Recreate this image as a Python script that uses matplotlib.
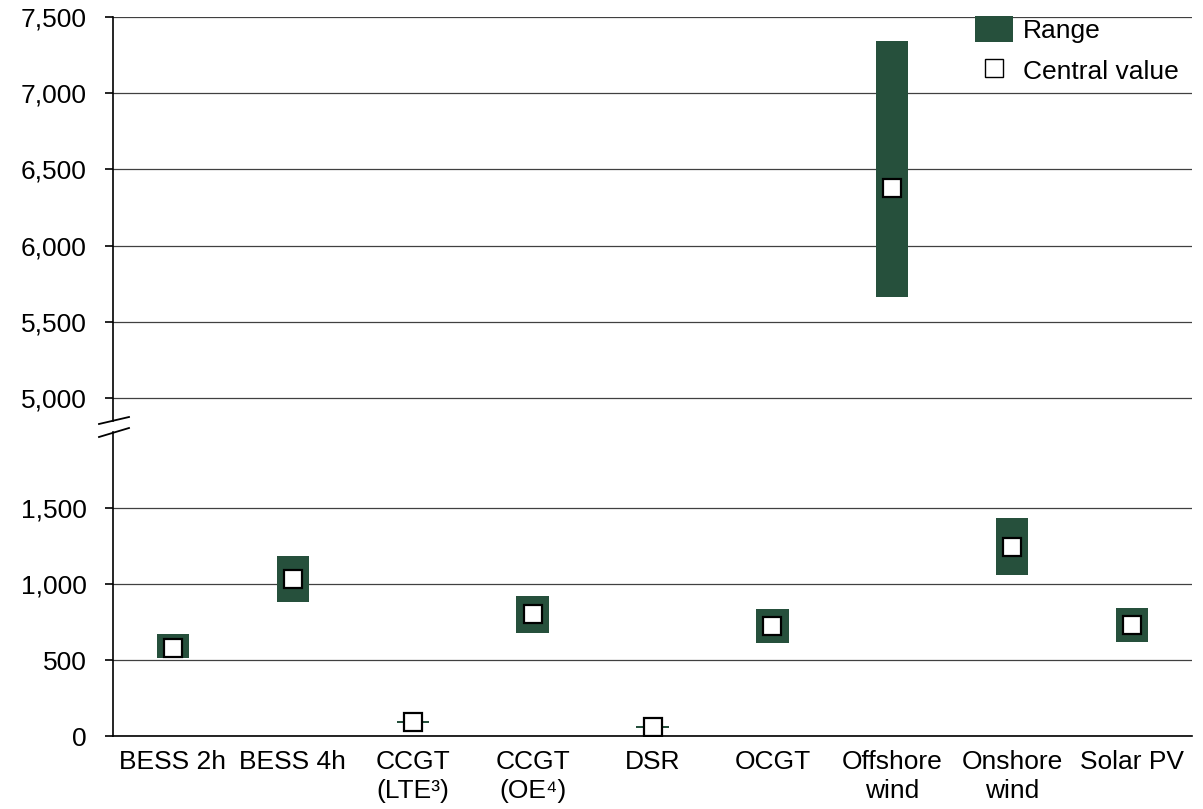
import matplotlib
matplotlib.use("Agg")
import matplotlib.pyplot as plt
from matplotlib.patches import Patch
from matplotlib.lines import Line2D
from matplotlib.ticker import FuncFormatter

plt.rcParams['font.family'] = ['Liberation Sans', 'DejaVu Sans']

categories = ["BESS 2h", "BESS 4h", "CCGT\n(LTE\u00b3)", "CCGT\n(OE\u2074)", "DSR",
              "OCGT", "Offshore\nwind", "Onshore\nwind", "Solar PV"]
range_low = [510, 882, 85, 676, 50, 614, 5660, 1059, 620]
range_high = [668, 1186, 100, 921, 63, 834, 7340, 1432, 840]
central = [582, 1030, 92, 801, 57, 725, 6380, 1245, 730]

upper_ticks = [5000, 5500, 6000, 6500, 7000, 7500]
lower_ticks = [0, 500, 1000, 1500]

GREEN = '#26503C'
W, H = 1203, 809
fig = plt.figure(figsize=(W / 100, H / 100), dpi=100)

left = 113 / W
width = (1192 - 113) / W
ax_up = fig.add_axes([left, 1 - 421 / H, width, (421 - 17) / H])
ax_lo = fig.add_axes([left, 1 - 736 / H, width, (736 - 432) / H])

x = list(range(len(categories)))
heights = [h - l for l, h in zip(range_low, range_high)]
fmt = FuncFormatter(lambda v, p: f"{int(v):,}")
FS = 19

for ax in (ax_up, ax_lo):
    ax.bar(x, heights, bottom=range_low, width=0.27, color=GREEN, zorder=2)
    ax.plot(x, central, ls='none', marker='s', ms=12.5, mfc='white', mec='black', mew=1.6, zorder=3)
    ax.set_xlim(-0.5, len(categories) - 0.5)
    ax.set_axisbelow(True)
    ax.grid(axis='y', color='#404040', lw=0.9)
    ax.grid(axis='x', visible=False)
    for s in ('top', 'right'):
        ax.spines[s].set_visible(False)
    ax.spines['left'].set_linewidth(1.2)
    ax.yaxis.set_major_formatter(fmt)
    ax.tick_params(axis='y', labelsize=FS, length=6, width=1.2, pad=13, direction='out')
    ax.set_facecolor('none')

ax_up.set_ylim(4849, 7500)
ax_up.set_yticks(upper_ticks)
ax_up.spines['bottom'].set_visible(False)
ax_up.tick_params(axis='x', bottom=False, labelbottom=False)

ax_lo.set_ylim(0, 2000)
ax_lo.set_yticks(lower_ticks)
ax_lo.spines['bottom'].set_linewidth(1.2)
ax_lo.set_xticks(x)
ax_lo.set_xticklabels(categories, fontsize=FS, linespacing=1.28)
ax_lo.tick_params(axis='x', length=0, pad=10)

# break marks
for y0, y1 in ((424, 417), (437, 428)):
    fig.add_artist(Line2D([99 / W, 129 / W], [1 - y0 / H, 1 - y1 / H], color='black', lw=1.3))

handles = [Patch(facecolor=GREEN, edgecolor='none'),
           Line2D([], [], ls='none', marker='s', ms=13.0, mfc='white', mec='black', mew=1.0)]
ax_up.legend(handles, ["Range", "Central value"], loc='upper left',
             bbox_to_anchor=((975 - 113) / (1192 - 113), 1 + 1 / 404),
             frameon=False, fontsize=19, handlelength=1.44, handleheight=1.12,
             handletextpad=0.38, labelspacing=0.55, borderaxespad=0.0, borderpad=0.0)

fig.savefig("out.png", dpi=100)
